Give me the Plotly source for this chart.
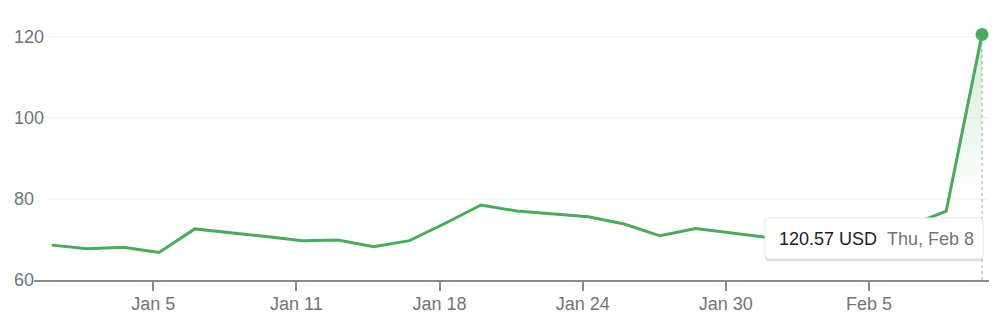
import plotly.graph_objects as go

# ---- data ----
dates = ["Jan 2", "Jan 3", "Jan 4", "Jan 5", "Jan 8", "Jan 9", "Jan 10", "Jan 11", "Jan 12",
         "Jan 16", "Jan 17", "Jan 18", "Jan 19", "Jan 22", "Jan 23", "Jan 24", "Jan 25", "Jan 26",
         "Jan 29", "Jan 30", "Jan 31", "Feb 1", "Feb 2", "Feb 5", "Feb 6", "Feb 7", "Feb 8"]
prices = [68.6, 67.7, 68.1, 66.8, 72.6, 71.7, 70.7, 69.7, 69.85,
          68.2, 69.7, 74.0, 78.5, 77.0, 76.3, 75.6, 73.8, 70.9,
          72.7, 71.6, 70.5, 69.8, 70.3, 71.2, 73.5, 77.0, 120.57]
tick_dates = ["Jan 5", "Jan 11", "Jan 18", "Jan 24", "Jan 30", "Feb 5"]
y_ticks = [60, 80, 100, 120]
currency = "USD"
hover_label = "Thu, Feb 8"

# ---- style ----
GREEN = "#4CAA5C"
GRAY_TXT = "#70757a"
AXIS = "#888b8f"
FONT = "Arial, Liberation Sans, sans-serif"

W, H = 1002, 318
L, R, T, B = 34, 13, 20, 38
pw, ph = W - L - R, H - T - B

idx = list(range(len(prices)))
px_per = 35.78
x0 = -(51.7 - L) / px_per
x1 = (len(prices) - 1) + (W - R - 982) / px_per
y_lo = 60
y_hi = 60 + ph / 4.055

def px_x(p):
    return (p - L) / pw

def px_y(p):
    return (H - B - p) / ph

fig = go.Figure()

# gradient fill under last segment
fig.add_trace(go.Scatter(
    x=idx[-2:], y=prices[-2:], mode="lines", line=dict(width=0),
    fill="tozeroy",
    fillgradient=dict(type="vertical", start=80, stop=prices[-1],
                      colorscale=[[0, "rgba(76,170,92,0)"], [1, "rgba(76,170,92,0.24)"]]),
    hoverinfo="skip", showlegend=False))

fig.add_trace(go.Scatter(
    x=idx, y=prices, mode="lines",
    line=dict(color=GREEN, width=3), hoverinfo="skip", showlegend=False))

fig.add_trace(go.Scatter(
    x=[idx[-1]], y=[prices[-1]], mode="markers",
    marker=dict(color=GREEN, size=13), hoverinfo="skip", showlegend=False,
    cliponaxis=False))

shapes = []
# gridlines
for v in y_ticks[1:]:
    shapes.append(dict(type="line", xref="paper", yref="y", x0=px_x(47), x1=1,
                       y0=v, y1=v, line=dict(color="#f1f3f4", width=1.5), layer="below"))
# dotted vertical line
shapes.append(dict(type="line", xref="x", yref="y", x0=idx[-1], x1=idx[-1],
                   y0=y_lo, y1=prices[-1], line=dict(color="#c4c7c9", width=1.5, dash="dot"),
                   layer="below"))

# tooltip box (rounded) with soft shadow
def rrect(xa, ya, xb, yb, r):
    def P(x, y):
        return f"{px_x(x):.5f},{px_y(y):.5f}"
    return (f"M {P(xa + r, ya)} L {P(xb - r, ya)} Q {P(xb, ya)} {P(xb, ya + r)} "
            f"L {P(xb, yb - r)} Q {P(xb, yb)} {P(xb - r, yb)} L {P(xa + r, yb)} "
            f"Q {P(xa, yb)} {P(xa, yb - r)} L {P(xa, ya + r)} Q {P(xa, ya)} {P(xa + r, ya)} Z")

bx0, by0, bx1, by1 = 765, 218, 983, 259
for off, a in [(3, 0.06), (2, 0.08), (1, 0.12)]:
    shapes.append(dict(type="path", xref="paper", yref="paper",
                       path=rrect(bx0, by0 + off, bx1, by1 + off, 4),
                       fillcolor=f"rgba(60,64,67,{a})", line=dict(width=0)))
shapes.append(dict(type="path", xref="paper", yref="paper",
                   path=rrect(bx0, by0, bx1, by1, 4),
                   fillcolor="white", line=dict(color="#e8e8e8", width=1)))

annotations = []
for v in y_ticks:
    annotations.append(dict(x=px_x(12), y=v, xref="paper", yref="y", text=str(v),
                            showarrow=False, xanchor="left", yanchor="middle",
                            font=dict(family=FONT, size=18, color=GRAY_TXT)))
annotations.append(dict(x=px_x(777), y=px_y(238.5), xref="paper", yref="paper",
                        text=f"{prices[-1]:.2f} {currency}", showarrow=False,
                        xanchor="left", yanchor="middle",
                        font=dict(family=FONT, size=18, color="#202124")))
annotations.append(dict(x=px_x(885), y=px_y(238.5), xref="paper", yref="paper",
                        text=hover_label, showarrow=False,
                        xanchor="left", yanchor="middle",
                        font=dict(family=FONT, size=18, color=GRAY_TXT)))

tickvals = [dates.index(d) - 0.16 for d in tick_dates]

fig.update_layout(
    width=W, height=H,
    margin=dict(l=L, r=R, t=T, b=B, pad=0, autoexpand=False),
    paper_bgcolor="white", plot_bgcolor="white",
    font=dict(family=FONT, size=18, color=GRAY_TXT),
    xaxis=dict(range=[x0, x1], showgrid=False, zeroline=False, automargin=False,
               showline=True, linecolor=AXIS, linewidth=2,
               ticks="outside", ticklen=9, tickwidth=2, tickcolor=AXIS,
               ticklabelstandoff=-3,
               tickvals=tickvals, ticktext=tick_dates,
               tickfont=dict(family=FONT, size=18, color=GRAY_TXT)),
    yaxis=dict(range=[y_lo, y_hi], showgrid=False, zeroline=False, automargin=False,
               showticklabels=False, showline=False),
    shapes=shapes, annotations=annotations,
    showlegend=False,
)

fig.write_html("out.html")
